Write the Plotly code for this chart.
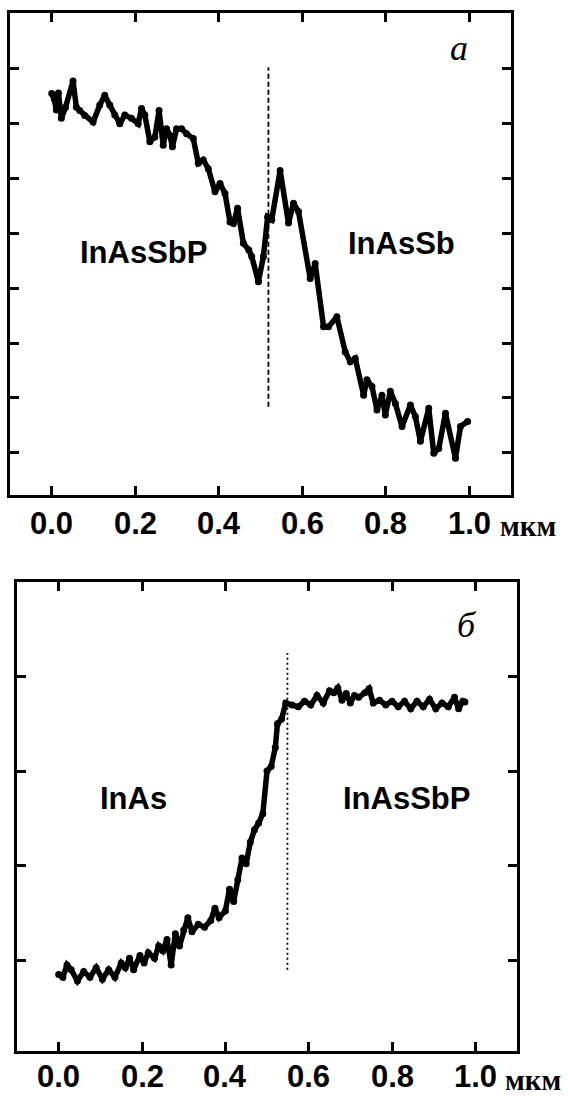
import plotly.graph_objects as go

W, H = 568, 1096

# ---- panel a (top) ----
top_x = [0.000, 0.006, 0.011, 0.016, 0.023, 0.033, 0.051, 0.059, 0.067, 0.079, 0.099,
         0.115, 0.127, 0.139, 0.151, 0.163, 0.175, 0.191, 0.207, 0.215, 0.223, 0.235,
         0.247, 0.257, 0.267, 0.275, 0.283, 0.289, 0.299, 0.311, 0.323, 0.339, 0.351,
         0.363, 0.375, 0.391, 0.403, 0.415, 0.427, 0.435, 0.445, 0.459, 0.472, 0.479,
         0.495, 0.507, 0.517, 0.527, 0.547, 0.567, 0.579, 0.591, 0.619, 0.631, 0.651,
         0.663, 0.683, 0.703, 0.715, 0.727, 0.747, 0.755, 0.767, 0.779, 0.791, 0.799,
         0.811, 0.823, 0.839, 0.859, 0.871, 0.883, 0.903, 0.915, 0.927, 0.943, 0.967,
         0.979, 0.996]
top_y = [6.55, 6.45, 6.25, 6.56, 6.10, 6.30, 6.78, 6.30, 6.24, 6.15, 6.03,
         6.34, 6.52, 6.34, 6.16, 6.00, 6.16, 6.10, 6.00, 6.28, 6.16, 5.67,
         5.76, 6.24, 5.61, 5.91, 5.79, 5.58, 5.91, 5.91, 5.82, 5.73, 5.28,
         5.34, 5.18, 4.76, 4.91, 4.73, 4.21, 4.18, 4.46, 3.82, 3.70, 3.58,
         3.12, 3.58, 4.30, 4.25, 5.15, 4.19, 4.55, 4.40, 3.18, 3.45, 2.30,
         2.30, 2.48, 1.84, 1.66, 1.72, 1.05, 1.33, 1.21, 0.78, 1.05, 0.69,
         1.12, 0.90, 0.48, 0.87, 0.66, 0.21, 0.81, -0.01, 0.08, 0.72, -0.10,
         0.48, 0.57]
top_boundary_x = 0.519
top_boundary_y = [0.84, 7.03]
top_labels = ["InAsSbP", "InAsSb"]

# ---- panel б (bottom) ----
bot_x = [0.000, 0.010, 0.020, 0.030, 0.045, 0.060, 0.075, 0.090, 0.105, 0.120, 0.135,
         0.150, 0.160, 0.170, 0.180, 0.195, 0.205, 0.215, 0.230, 0.240, 0.250, 0.260,
         0.270, 0.280, 0.290, 0.300, 0.310, 0.320, 0.335, 0.350, 0.365, 0.375, 0.385,
         0.400, 0.410, 0.420, 0.430, 0.440, 0.450, 0.460, 0.470, 0.480, 0.490, 0.500,
         0.510, 0.520, 0.525, 0.535, 0.545, 0.560, 0.575, 0.590, 0.605, 0.620, 0.635,
         0.650, 0.660, 0.670, 0.680, 0.690, 0.700, 0.710, 0.720, 0.735, 0.745, 0.755,
         0.770, 0.785, 0.800, 0.815, 0.830, 0.845, 0.860, 0.875, 0.890, 0.905, 0.920,
         0.935, 0.950, 0.960, 0.970, 0.975]
bot_y = [-0.15, -0.18, -0.05, -0.10, -0.22, -0.12, -0.18, -0.08, -0.20, -0.10, -0.18,
         -0.03, -0.08, 0.02, -0.10, 0.05, -0.03, 0.08, 0.02, 0.15, 0.10, 0.22,
         -0.05, 0.28, 0.15, 0.32, 0.45, 0.30, 0.38, 0.35, 0.42, 0.55, 0.45,
         0.52, 0.75, 0.62, 0.85, 1.08, 1.02, 1.25, 1.38, 1.45, 1.55, 2.00,
         2.05, 2.25, 2.50, 2.55, 2.72, 2.70, 2.68, 2.74, 2.70, 2.80, 2.72,
         2.85, 2.83, 2.88, 2.75, 2.82, 2.72, 2.80, 2.78, 2.83, 2.87, 2.72,
         2.75, 2.70, 2.74, 2.68, 2.74, 2.66, 2.74, 2.68, 2.76, 2.66, 2.72,
         2.68, 2.78, 2.66, 2.74, 2.73]
bot_boundary_x = 0.549
bot_boundary_y = [-0.10, 3.25]
bot_labels = ["InAs", "InAsSbP"]

x_ticks = [0.0, 0.2, 0.4, 0.6, 0.8, 1.0]
x_ticktext = ["0.0", "0.2", "0.4", "0.6", "0.8", "1.0"]
top_yticks = [0, 1, 2, 3, 4, 5, 6, 7]
bot_yticks = [0, 1, 2, 3]
unit = "мкм"

SANS = "Liberation Sans, Arial, sans-serif"
SERIF = "Liberation Serif, Times New Roman, serif"

fig = go.Figure()
curve_line = dict(color="black", width=5.5)
curve_marker = dict(color="black", size=7)
fig.add_trace(go.Scatter(x=top_x, y=top_y, mode="lines+markers", line=curve_line,
                         marker=curve_marker, xaxis="x", yaxis="y", showlegend=False))
fig.add_trace(go.Scatter(x=[top_boundary_x, top_boundary_x], y=top_boundary_y, mode="lines",
                         line=dict(color="black", width=1.8, dash="5px,3px"),
                         xaxis="x", yaxis="y", showlegend=False))
fig.add_trace(go.Scatter(x=bot_x, y=bot_y, mode="lines+markers", line=curve_line,
                         marker=curve_marker, xaxis="x2", yaxis="y2", showlegend=False))
fig.add_trace(go.Scatter(x=[bot_boundary_x, bot_boundary_x], y=bot_boundary_y, mode="lines",
                         line=dict(color="black", width=1.8, dash="2px,3px"),
                         xaxis="x2", yaxis="y2", showlegend=False))

def xax(domain, anchor):
    return dict(domain=domain, anchor=anchor, range=[-0.1, 1.1],
                tickvals=x_ticks, showticklabels=False, ticks="inside", ticklen=9,
                tickwidth=3, tickcolor="black", showline=True, linewidth=3,
                linecolor="black", mirror="ticks", showgrid=False, zeroline=False)

def yax(domain, anchor, rng, tv):
    return dict(domain=domain, anchor=anchor, range=rng, tickvals=tv,
                showticklabels=False, ticks="inside", ticklen=9, tickwidth=3,
                tickcolor="black", showline=True, linewidth=3, linecolor="black",
                mirror="ticks", showgrid=False, zeroline=False)

fig.update_layout(
    width=W, height=H, margin=dict(l=0, r=0, t=0, b=0),
    paper_bgcolor="white", plot_bgcolor="white",
    xaxis=xax([10 / W, 511 / W], "y"),
    yaxis=yax([1 - 495 / H, 1 - 13 / H], "x", [-0.77, 8.02], top_yticks),
    xaxis2=xax([17 / W, 517 / W], "y2"),
    yaxis2=yax([1 - 1051 / H, 1 - 582 / H], "x2", [-0.96, 4.0], bot_yticks),
)

tick_font = dict(family=SANS, size=31, color="black", weight="bold")
lab_font = dict(family=SANS, size=31, color="black", weight="bold")
unit_font = dict(family=SERIF, size=29, color="black", weight="bold")
ann = []
# x tick labels (bound to the axes' data coordinates)
for v, t in zip(x_ticks, x_ticktext):
    ann.append(dict(x=v, y=1 - 523 / H, xref="x", yref="paper", text=t, showarrow=False,
                    yanchor="middle", font=tick_font))
    ann.append(dict(x=v, y=1 - 1076 / H, xref="x2", yref="paper", text=t, showarrow=False,
                    yanchor="middle", font=tick_font))
ann += [
    dict(x=0.219, y=3.66, xref="x", yref="y", text=top_labels[0], showarrow=False, font=lab_font),
    dict(x=0.838, y=3.81, xref="x", yref="y", text=top_labels[1], showarrow=False, font=lab_font),
    dict(x=0.18, y=1.71, xref="x2", yref="y2", text=bot_labels[0], showarrow=False, font=lab_font),
    dict(x=0.834, y=1.71, xref="x2", yref="y2", text=bot_labels[1], showarrow=False, font=lab_font),
    dict(x=0.975, y=7.38, xref="x", yref="y", text="а", showarrow=False,
         font=dict(family=SERIF, size=36, color="black", style="italic")),
    dict(x=0.98, y=3.55, xref="x2", yref="y2", text="б", showarrow=False,
         font=dict(family=SERIF, size=36, color="black", style="italic")),
    dict(x=498 / W, y=1 - 526 / H, xref="paper", yref="paper", text=unit, showarrow=False,
         xanchor="left", yanchor="middle", font=unit_font),
    dict(x=503 / W, y=1 - 1080 / H, xref="paper", yref="paper", text=unit, showarrow=False,
         xanchor="left", yanchor="middle", font=unit_font),
]
fig.update_layout(annotations=ann)

fig.write_html("out.html", config={"displayModeBar": False},
               post_script="document.body.style.margin='0';")
